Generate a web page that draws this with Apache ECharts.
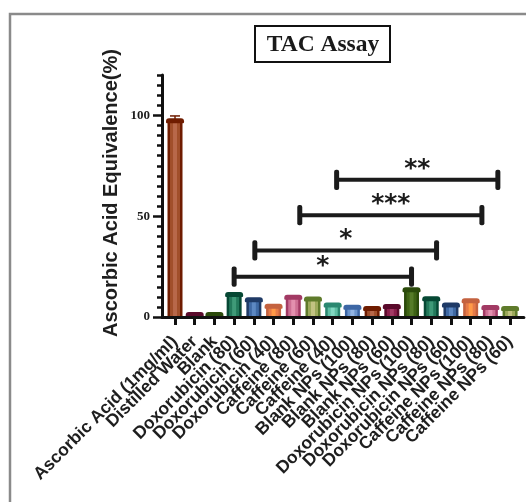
<!DOCTYPE html>
<html>
<head>
<meta charset="utf-8">
<title>TAC Assay</title>
<script src="https://cdn.jsdelivr.net/npm/echarts@6/dist/echarts.min.js"></script>
<style>
  html, body { margin: 0; padding: 0; background: #ffffff; }
  #chart { width: 526px; height: 502px; }
</style>
</head>
<body>
<div id="chart"></div>
<script>
// Groups tested in the total antioxidant capacity assay
const categories = [
  'Ascorbic Acid (1mg/ml)', 'Distilled Water', 'Blank',
  'Doxorubicin (80)', 'Doxorubicin (60)', 'Doxorubicin (40)',
  'Caffeine (80)', 'Caffeine (60)', 'Caffeine (40)',
  'Blank NPs (100)', 'Blank NPs (80)', 'Blank NPs (60)',
  'Doxorubicin NPs (100)', 'Doxorubicin NPs (80)', 'Doxorubicin NPs (60)',
  'Caffeine NPs (100)', 'Caffeine NPs (80)', 'Caffeine NPs (60)'
];
// Ascorbic acid equivalence (%) and its error
const values = [98.5, 1.8, 2.3, 12.4, 9.8, 6.6, 11.0, 10.2, 7.2, 6.1, 5.4, 6.4, 14.8, 10.3, 7.2, 9.3, 6.0, 5.4];
const errors = [1.2, 0.3, 0.3, 0.8, 0.6, 0.5, 0.6, 0.6, 0.5, 0.4, 0.4, 0.5, 0.8, 0.6, 0.5, 0.6, 0.4, 0.4];

// Significance brackets: start/end position on the category scale, height, stars
const bracketStart = [3.0, 4.05, 6.33, 8.2];
const bracketEnd = [12.0, 13.27, 15.57, 16.38];
const bracketLevel = [20, 33, 50.5, 68];
const bracketStars = ['*', '*', '***', '**'];

// Y axis ticks
const yMajorStep = 50;
const yMinorStep = 5;
const yMax = 120;

// X extent of the plotting area, in category units
const xMin = -0.66;
const xMax = 17.7;

// Ten-colour cycle: edge, body, centre highlight
const palette = [
  { dark: '#6f1c00', mid: '#a14f2b', light: '#b8684a' },
  { dark: '#5a0a2b', mid: '#8a1e4b', light: '#a23a64' },
  { dark: '#2b4a0b', mid: '#3f6415', light: '#567b28' },
  { dark: '#064834', mid: '#23795b', light: '#3f9a78' },
  { dark: '#1f3a66', mid: '#3f69a4', light: '#5d88c2' },
  { dark: '#c4623f', mid: '#e67b48', light: '#ff9a48' },
  { dark: '#a23a64', mid: '#cd6f93', light: '#e390ae' },
  { dark: '#5f7b2b', mid: '#9ca95b', light: '#c2c282' },
  { dark: '#2a8870', mid: '#5ebfa4', light: '#82d8c1' },
  { dark: '#3d67a5', mid: '#6b95cd', light: '#93b5e3' }
];

const barData = values.map((v, i) => [i, v, errors[i]]);
const bracketData = bracketStart.map((s, i) => [s, bracketEnd[i], bracketLevel[i], i]);

function renderBar(params, api) {
  const x = api.value(0);
  const v = api.value(1);
  const err = api.value(2);
  const c = palette[params.dataIndex % palette.length];
  const base = api.coord([x, 0]);
  const top = api.coord([x, v]);
  const errTop = api.coord([x, v + err]);
  const cx = base[0];
  const h = Math.max(base[1] - top[1], 0);
  const capH = 5;
  const children = [];
  if (params.dataIndex === 0) {
    children.push({
      type: 'line',
      shape: { x1: cx, y1: top[1] + 1, x2: cx, y2: errTop[1] },
      style: { stroke: c.dark, lineWidth: 1.5 }
    });
    children.push({
      type: 'line',
      shape: { x1: cx - 5, y1: errTop[1], x2: cx + 5, y2: errTop[1] },
      style: { stroke: c.dark, lineWidth: 1.5 }
    });
  }
  children.push({
    type: 'rect',
    shape: { x: cx - 7.5, y: top[1] + 2, width: 15, height: Math.max(h - 2, 0) },
    style: { fill: c.dark }
  });
  children.push({
    type: 'rect',
    shape: { x: cx - 5, y: top[1] + 2, width: 10, height: Math.max(h - 2, 0) },
    style: { fill: c.mid }
  });
  children.push({
    type: 'rect',
    shape: { x: cx - 2, y: top[1] + 2, width: 4, height: Math.max(h - 2, 0) },
    style: { fill: c.light }
  });
  children.push({
    type: 'rect',
    shape: { x: cx - 9, y: Math.min(top[1], base[1] - capH), width: 18, height: capH, r: [3, 3, 1, 1] },
    style: { fill: c.dark }
  });
  return { type: 'group', children: children };
}

function renderBracket(params, api) {
  const x1 = api.value(0);
  const x2 = api.value(1);
  const y = api.value(2);
  const idx = api.value(3);
  const p1 = api.coord([x1, y]);
  const p2 = api.coord([x2, y]);
  const capTop = api.coord([x1, y + 5])[1];
  const capBot = api.coord([x1, y - 5])[1];
  const ink = '#1b1b1b';
  return {
    type: 'group',
    children: [
      { type: 'line', shape: { x1: p1[0], y1: p1[1], x2: p2[0], y2: p2[1] }, style: { stroke: ink, lineWidth: 4 } },
      { type: 'rect', shape: { x: p1[0] - 2.5, y: capTop, width: 5, height: capBot - capTop, r: 2 }, style: { fill: ink } },
      { type: 'rect', shape: { x: p2[0] - 2.5, y: capTop, width: 5, height: capBot - capTop, r: 2 }, style: { fill: ink } },
      {
        type: 'text',
        style: {
          x: (p1[0] + p2[0]) / 2, y: p1[1] + 2,
          text: bracketStars[idx],
          fill: ink,
          font: 'bold 25px "DejaVu Sans"',
          align: 'center', verticalAlign: 'bottom'
        }
      }
    ]
  };
}

const tickValues = categories.map((_, i) => i);
// Label positions include the two axis ends (left blank) so every category label stays visible
const labelValues = [xMin].concat(tickValues, [xMax]);

const chart = echarts.init(document.getElementById('chart'), null, { renderer: 'canvas' });
chart.setOption({
  animation: false,
  backgroundColor: '#ffffff',
  grid: { left: 162, top: 75, width: 363, bottom: 185 },
  xAxis: {
    type: 'value',
    min: xMin,
    max: xMax,
    z: 5,
    splitLine: { show: false },
    axisLine: { show: true, onZero: false, lineStyle: { color: '#111', width: 3 } },
    axisTick: { show: true, customValues: tickValues, length: 8, lineStyle: { color: '#111', width: 3 } },
    axisLabel: {
      customValues: labelValues,
      hideOverlap: false,
      rotate: 45,
      margin: 22,
      formatter: v => {
        const i = Math.round(v);
        return (Math.abs(v - i) < 1e-6 && categories[i] !== undefined) ? categories[i] : '';
      },
      color: '#1e1e1e',
      fontFamily: '"Liberation Sans", Arial, sans-serif',
      fontWeight: 'bold',
      fontSize: 17.5
    }
  },
  yAxis: [
    {
      type: 'value', min: 0, max: yMax, interval: yMinorStep,
      z: 5,
      splitLine: { show: false },
      axisLine: { show: true, onZero: false, lineStyle: { color: '#111', width: 3 } },
      axisTick: { show: true, length: 5, lineStyle: { color: '#111', width: 2.5 } },
      axisLabel: { show: false }
    },
    {
      type: 'value', min: 0, max: yMax, interval: yMajorStep, position: 'left',
      z: 5,
      splitLine: { show: false },
      axisLine: { show: false, onZero: false },
      axisTick: { show: true, length: 9, lineStyle: { color: '#111', width: 2.5 } },
      axisLabel: {
        margin: 12,
        color: '#1e1e1e',
        fontFamily: '"Liberation Serif", "Times New Roman", serif',
        fontWeight: 'bold',
        fontSize: 13,
        showMinLabel: true,
        showMaxLabel: false
      }
    }
  ],
  graphic: [
    {
      type: 'rect', z: -1, silent: true,
      shape: { x: 10, y: 14, width: 540, height: 520 },
      style: { fill: 'none', stroke: '#8a8a8a', lineWidth: 2.5 }
    },
    {
      type: 'rect', silent: true,
      shape: { x: 255, y: 26, width: 135, height: 36 },
      style: { fill: '#ffffff', stroke: '#111', lineWidth: 2 }
    },
    {
      type: 'text', silent: true,
      style: {
        x: 323, y: 45, text: 'TAC Assay',
        font: 'bold 23.5px "Liberation Serif", "Times New Roman", serif',
        fill: '#1a1a1a', align: 'center', verticalAlign: 'middle'
      }
    },
    {
      type: 'text', silent: true,
      x: 111, y: 193, rotation: Math.PI / 2,
      style: {
        x: 0, y: 0, text: 'Ascorbic Acid Equivalence(%)',
        font: 'bold 20px "Liberation Sans", Arial, sans-serif',
        fill: '#1e1e1e', align: 'center', verticalAlign: 'middle'
      }
    }
  ],
  series: [
    {
      type: 'custom',
      name: 'bars',
      renderItem: renderBar,
      data: barData,
      encode: { x: 0, y: 1 },
      clip: false
    },
    {
      type: 'custom',
      name: 'brackets',
      renderItem: renderBracket,
      data: bracketData,
      encode: { x: [0, 1], y: 2 },
      clip: false
    }
  ]
});
</script>
</body>
</html>
